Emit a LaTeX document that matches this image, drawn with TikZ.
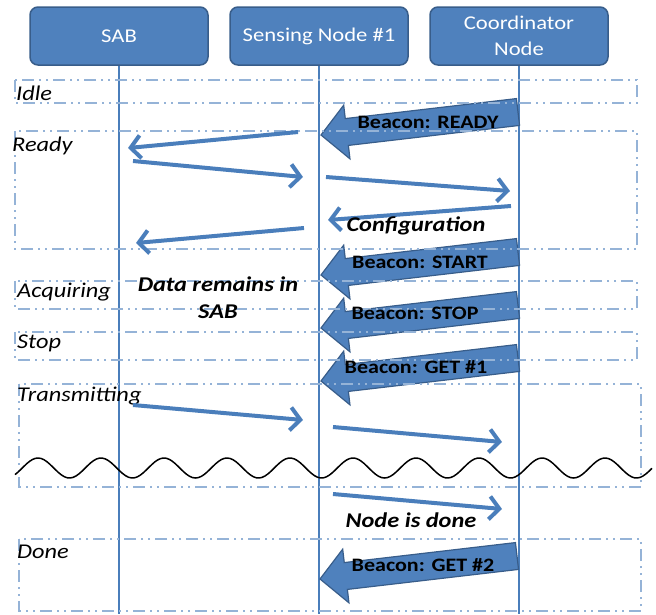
\documentclass[tikz,border=0pt]{standalone}
\usepackage{fontspec}
\setmainfont{Carlito}[FakeStretch=1.16]
\usetikzlibrary{calc,arrows.meta}
\definecolor{hdrfill}{HTML}{4F81BD}
\definecolor{hdrdraw}{HTML}{385D8A}
\definecolor{lifec}{HTML}{4A7EBB}
\definecolor{phasec}{HTML}{95B3D7}
\newcommand{\fatarr}[2]{%
  \coordinate (hb) at ($(#2)!26pt!(#1)$);
  \filldraw[beacon] ($(#1)!13.5pt!90:(#2)$) -- ($(hb)!13.5pt!90:(#2)$) -- ($(hb)!27pt!90:(#2)$)
    -- (#2) -- ($(hb)!27pt!-90:(#2)$) -- ($(hb)!13.5pt!-90:(#2)$) -- ($(#1)!13.5pt!-90:(#2)$) -- cycle;}
\begin{document}
\begin{tikzpicture}[x=1pt,y=-1pt,
  hdr/.style={draw=hdrdraw,line width=1.5pt,fill=hdrfill,rounded corners=8pt,minimum width=178pt,minimum height=58pt,text=white,font=\fontsize{19.5}{26}\selectfont,align=center,inner sep=0pt},
  life/.style={draw=lifec,line width=1.6pt},
  phase/.style={draw=phasec,line width=2pt,dash pattern=on 12pt off 5pt on 2pt off 5pt on 2pt off 5pt},
  plabel/.style={anchor=west,font=\fontsize{21}{24}\selectfont\itshape,inner sep=0pt},
  msg/.style={draw=lifec,line width=4pt,-{Straight Barb[length=10pt,width=23pt]}},
  beacon/.style={fill=hdrfill,draw=hdrdraw,line width=1.2pt,line join=miter},
  btext/.style={font=\fontsize{19}{22}\selectfont\bfseries,inner sep=0pt},
  note/.style={font=\fontsize{21}{27}\selectfont\bfseries\itshape,inner sep=0pt,align=center}]
\useasboundingbox (0,0) rectangle (656,614);
% headers
\node[hdr] (sab) at (119,36) {SAB};
\node[hdr] (sen) at (319,36) {Sensing Node \#1};
\node[hdr] (cor) at (519,36) {Coordinator\\Node};
\coordinate (bot) at (0,614);
% lifelines
\draw[life] (sab.south) -- (sab.south |- bot);
\draw[life] (sen.south) -- (sen.south |- bot);
\draw[life] (cor.south) -- (cor.south |- bot);
% beacon arrows
\coordinate (t1) at (518,112); \coordinate (p1) at (321,135);
\coordinate (t2) at (518,252); \coordinate (p2) at (321,275);
\coordinate (t3) at (518,305); \coordinate (p3) at (321,328);
\coordinate (t4) at (518,358); \coordinate (p4) at (321,381);
\coordinate (t5) at (517,556); \coordinate (p5) at (320,579);
\fatarr{t1}{p1}
\fatarr{t2}{p2}
\fatarr{t3}{p3}
\fatarr{t4}{p4}
\fatarr{t5}{p5}
% phases
\draw[phase] (15,80) rectangle (637,103);
\draw[phase] (15,131) rectangle (637,249);
\draw[phase] (15,281) rectangle (637,309);
\draw[phase] (15,332) rectangle (637,360);
\draw[phase] (19,384) rectangle (641,487);
\draw[phase] (19,539) rectangle (641,611);
\node[plabel] (lidle) at (16,93) {Idle};
\node[plabel] (lready) at (12,146) {Ready};
\node[plabel] (lacq) at (17,292) {Acquiring};
\node[plabel] (lstop) at (17,343) {Stop};
\node[plabel] (ltrans) at (17,396) {Transmitting};
\node[plabel] (ldone) at (17,552) {Done};
% messages
\coordinate (a1) at (298,132); \coordinate (b1) at (128,148);
\coordinate (a2) at (133,161); \coordinate (b2) at (303,177);
\coordinate (a3) at (326,177); \coordinate (b3) at (510,191);
\coordinate (a4) at (511,206); \coordinate (b4) at (328,220);
\coordinate (a5) at (304,228); \coordinate (b5) at (136,243);
\coordinate (a6) at (133,405); \coordinate (b6) at (303,420);
\coordinate (a7) at (333,427); \coordinate (b7) at (502,442);
\coordinate (a8) at (333,494); \coordinate (b8) at (502,509);
\foreach \i in {1,...,8} {\draw[msg] (a\i) -- (b\i);}
% wave
\draw[black,line width=1.5pt] plot[domain=15:652,samples=220,smooth] (\x,{468-10*cos((\x-38)*5.714)});
% texts
\node[btext] (tready) at (428,122) {Beacon: READY};
\node[btext] (tstart) at (420,262) {Beacon: START};
\node[btext] (tstop) at (415,313) {Beacon: STOP};
\node[btext] (tget1) at (416,367) {Beacon: GET \#1};
\node[btext] (tget2) at (423,565) {Beacon: GET \#2};
\node[note] (tconf) at (416,226) {Configuration};
\node[note] (tdata) at (218,298) {Data remains in\\SAB};
\node[note] (tdone) at (411,520) {Node is done};
\end{tikzpicture}
\end{document}
